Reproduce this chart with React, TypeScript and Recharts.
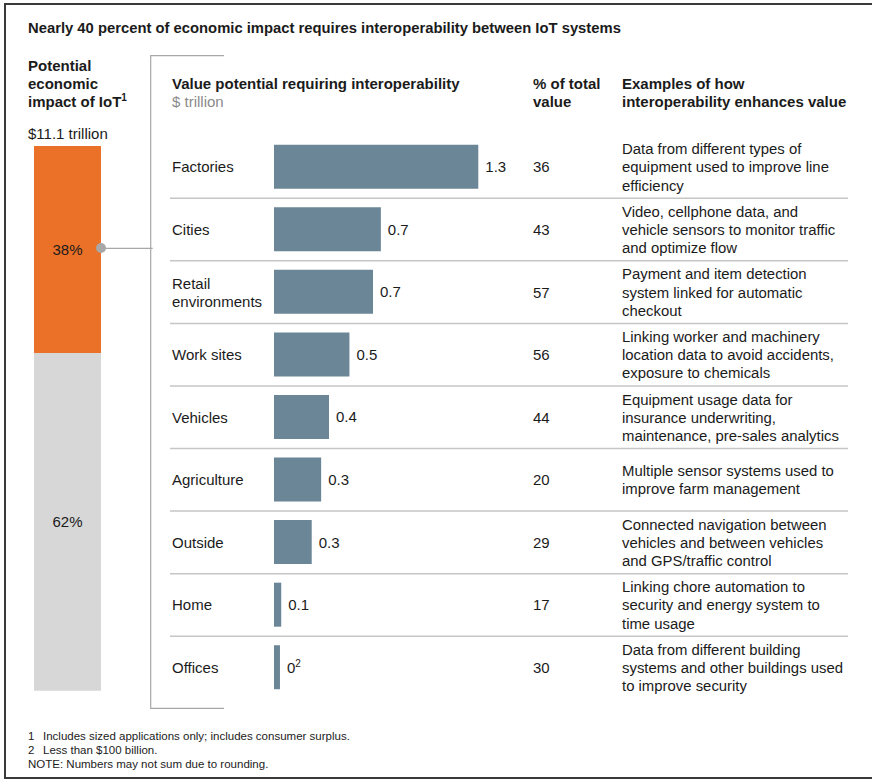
import { BarChart, Bar, XAxis, YAxis, LabelList } from 'recharts';

const FONT = '"Liberation Sans", Arial, sans-serif';
const INK = '#1b1b1b';

// Value potential requiring interoperability ($ trillion), bar lengths
const sectors = ['Factories', 'Cities', 'Retail\nenvironments', 'Work sites', 'Vehicles', 'Agriculture', 'Outside', 'Home', 'Offices'];
const interopValue = [1.3, 0.68, 0.63, 0.48, 0.35, 0.3, 0.24, 0.046, 0.038];
const valueLabels = ['1.3', '0.7', '0.7', '0.5', '0.4', '0.3', '0.3', '0.1', '0'];
const shareOfTotal = [36, 43, 57, 56, 44, 20, 29, 17, 30];
const examples = [
    ['Data from different types of', 'equipment used to improve line', 'efficiency'],
    ['Video, cellphone data, and', 'vehicle sensors to monitor traffic', 'and optimize flow'],
    ['Payment and item detection', 'system linked for automatic', 'checkout'],
    ['Linking worker and machinery', 'location data to avoid accidents,', 'exposure to chemicals'],
    ['Equipment usage data for', 'insurance underwriting,', 'maintenance, pre-sales analytics'],
    ['Multiple sensor systems used to', 'improve farm management'],
    ['Connected navigation between', 'vehicles and between vehicles', 'and GPS/traffic control'],
    ['Linking chore automation to', 'security and energy system to', 'time usage'],
    ['Data from different building', 'systems and other buildings used', 'to improve security'],
];

// Potential economic impact of IoT, $11.1 trillion split
const interopShare = 38;
const otherShare = 62;

const rows = sectors.map((s, i) => ({ sector: s, value: interopValue[i] }));
const impact = [{ name: 'IoT', other: otherShare, interop: interopShare }];

const ROW_PITCH = 62.56;

function RowTick(props: any) {
    const { y, payload } = props;
    const i = sectors.indexOf(payload.value);
    const base = y + 5.5;
    const nameLines = String(payload.value).split('\n');
    const ex = examples[i];
    return (
        <g fontFamily={FONT} fontSize={15} fill={INK}>
            {nameLines.map((l, k) => (
                <text key={k} x={172} y={base + (k - (nameLines.length - 1) / 2) * 18}>{l}</text>
            ))}
            <text x={533} y={base}>{shareOfTotal[i]}</text>
            {ex.map((l, k) => (
                <text key={'e' + k} x={622} y={base + (k - (ex.length - 1) / 2) * 18.2} fontSize={14.9}>{l}</text>
            ))}
            {i < sectors.length - 1 && (
                <line x1={170} x2={848} y1={y + ROW_PITCH / 2} y2={y + ROW_PITCH / 2} stroke="#c6c6c6" strokeWidth={1.5} />
            )}
        </g>
    );
}

function ValueLabel(props: any) {
    const { x, y, width, height, index } = props;
    return (
        <text x={x + width + 7} y={y + height / 2 + 5.5} fontFamily={FONT} fontSize={15} fill={INK}>
            {valueLabels[index]}
            {index === sectors.length - 1 && <tspan fontSize={10} dy={-6}>2</tspan>}
        </text>
    );
}

export default function App() {
    return (
        <div style={{ position: 'absolute', left: 0, top: 0, width: 872, height: 782, background: '#fff', fontFamily: FONT }}>
            {/* frame, bracket, headers, footnotes */}
            <svg width={872} height={782} style={{ position: 'absolute', left: 0, top: 0 }}>
                <path d="M 880 4 L 5 4 L 5 778 L 880 778" fill="none" stroke="#3a3a3a" strokeWidth={2} />
                <path d="M 224 55.7 L 150.7 55.7 L 150.7 708.3 L 224 708.3" fill="none" stroke="#a8a8a8" strokeWidth={1.2} />

                <text x={28} y={33} fontSize={14.8} fontWeight="bold" fill={INK}>
                    Nearly 40 percent of economic impact requires interoperability between IoT systems
                </text>

                <g fontSize={15} fontWeight="bold" fill={INK}>
                    <text x={28} y={71}>Potential</text>
                    <text x={28} y={89}>economic</text>
                    <text x={28} y={107}>impact of IoT<tspan fontSize={10} dy={-6}>1</tspan></text>
                    <text x={172} y={89}>Value potential requiring interoperability</text>
                    <text x={533} y={89}>% of total</text>
                    <text x={533} y={107}>value</text>
                    <text x={622} y={89}>Examples of how</text>
                    <text x={622} y={107}>interoperability enhances value</text>
                </g>
                <text x={172} y={107} fontSize={15} fill="#8a8a8a">$ trillion</text>
                <text x={28} y={139} fontSize={15} fill={INK}>$11.1 trillion</text>

                <line x1={101} x2={152.7} y1={248.3} y2={248.3} stroke="#a8a8a8" strokeWidth={1.2} />

                <g fontSize={11.5} fill={INK}>
                    <text x={28} y={740}>1</text>
                    <text x={43} y={740}>Includes sized applications only; includes consumer surplus.</text>
                    <text x={28} y={753.5}>2</text>
                    <text x={43} y={753.5}>Less than $100 billion.</text>
                    <text x={28} y={767.5}>NOTE: Numbers may not sum due to rounding.</text>
                </g>
            </svg>

            {/* main horizontal bars */}
            <div style={{ position: 'absolute', left: 0, top: 0 }}>
                <BarChart
                    layout="vertical"
                    width={872}
                    height={782}
                    data={rows}
                    margin={{ top: 135.7, bottom: 83.2, left: 170, right: 393.7 }}
                    barCategoryGap={0}
                >
                    <XAxis type="number" domain={[0, 1.3]} hide />
                    <YAxis type="category" dataKey="sector" width={104} axisLine={false} tickLine={false} tick={<RowTick />} interval={0} />
                    <Bar dataKey="value" fill="#6b8696" barSize={44} isAnimationActive={false}>
                        <LabelList dataKey="value" content={<ValueLabel />} />
                    </Bar>
                </BarChart>
            </div>

            {/* potential economic impact stacked bar */}
            <div style={{ position: 'absolute', left: 34.3, top: 146 }}>
                <BarChart width={67.4} height={544.7} data={impact} margin={{ top: 0, bottom: 0, left: 0, right: 0 }} barCategoryGap={0}>
                    <XAxis dataKey="name" hide />
                    <YAxis type="number" domain={[0, 100]} hide />
                    <Bar dataKey="other" stackId="a" fill="#d7d7d7" isAnimationActive={false}>
                        <LabelList dataKey="other" position="center" formatter={(v: any) => `${v}%`} fill={INK} fontSize={15} fontFamily={FONT} />
                    </Bar>
                    <Bar dataKey="interop" stackId="a" fill="#ec7128" isAnimationActive={false}>
                        <LabelList dataKey="interop" position="center" formatter={(v: any) => `${v}%`} fill={INK} fontSize={15} fontFamily={FONT} />
                    </Bar>
                </BarChart>
            </div>

            <svg width={20} height={20} style={{ position: 'absolute', left: 91, top: 238.3 }}>
                <circle cx={10} cy={10} r={5} fill="#a8a8a8" />
            </svg>
        </div>
    );
}
